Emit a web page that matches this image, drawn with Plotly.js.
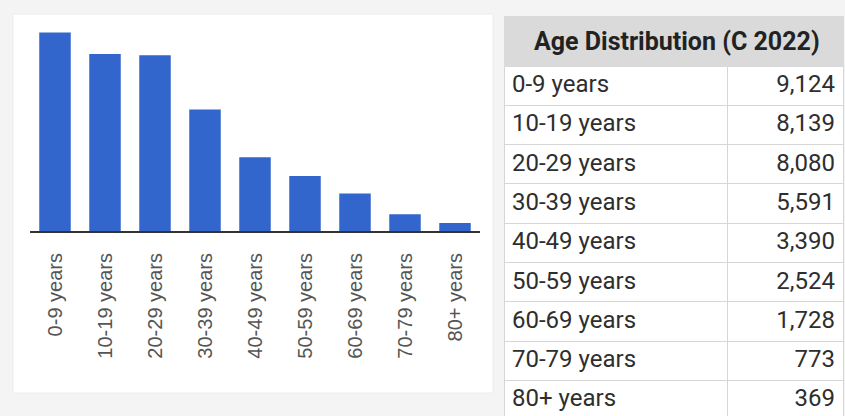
<!DOCTYPE html>
<html>
<head>
<meta charset="utf-8">
<script src="https://cdn.plot.ly/plotly-3.0.1.min.js"></script>
<style>html,body{margin:0;padding:0;background:#f4f4f4;}#chart{width:845px;height:416px;}</style>
</head>
<body>
<div id="chart"></div>
<script>
const categories = ["0-9 years","10-19 years","20-29 years","30-39 years","40-49 years","50-59 years","60-69 years","70-79 years","80+ years"];
const population = [9124, 8139, 8080, 5591, 3390, 2524, 1728, 773, 369];
const tableTitle = "Age Distribution (C 2022)";

const W = 845, H = 416;
const px = v => v / W;
const py = v => (H - v) / H;

const bar = {
  type: 'bar',
  x: categories,
  y: population,
  marker: {color: '#3366cc'},
  hoverinfo: 'x+y',
  xaxis: 'x', yaxis: 'y'
};

const table = {
  type: 'table',
  domain: {x: [px(504), px(843)], y: [0, py(16)]},
  columnwidth: [223, 116],
  header: {
    values: ['', ''],
    height: 50,
    fill: {color: '#dadada'},
    line: {color: '#dadada', width: 1}
  },
  cells: {
    values: [categories, population.map(v => v.toLocaleString('en-US'))],
    height: 39.3,
    align: ['left', 'right'],
    fill: {color: '#ffffff'},
    line: {color: '#d6d6d6', width: 1},
    font: {family: 'Roboto, sans-serif', size: 24, color: '#2e2e2e'}
  }
};

const layout = {
  width: W, height: H,
  margin: {l: 0, r: 0, t: 0, b: 0},
  paper_bgcolor: '#f4f4f4',
  plot_bgcolor: 'rgba(0,0,0,0)',
  showlegend: false,
  bargap: 0.37,
  xaxis: {
    domain: [px(30), px(480)],
    showline: true, linecolor: '#333333', linewidth: 2,
    showgrid: false, zeroline: false,
    ticks: '', tickangle: -90,
    ticklabelstandoff: 12,
    tickfont: {family: 'Liberation Sans, Arial, sans-serif', size: 20, color: '#555555'},
    fixedrange: true
  },
  yaxis: {
    domain: [py(231), py(24.4)],
    range: [0, 9500],
    showgrid: false, zeroline: false, showline: false,
    showticklabels: false, ticks: '',
    fixedrange: true
  },
  shapes: [{
    type: 'rect', xref: 'paper', yref: 'paper', layer: 'below',
    x0: px(13), x1: px(493), y0: py(393), y1: py(14),
    fillcolor: '#ffffff', line: {color: '#ececec', width: 1}
  }],
  annotations: [{
    xref: 'paper', yref: 'paper',
    x: px(677), y: py(42), xanchor: 'center', yanchor: 'middle',
    text: '<b>' + tableTitle + '</b>', showarrow: false,
    font: {family: 'Roboto, sans-serif', size: 25, color: '#222222'}
  }]
};

Plotly.newPlot('chart', [bar, table], layout, {displayModeBar: false, staticPlot: true});
</script>
</body>
</html>
